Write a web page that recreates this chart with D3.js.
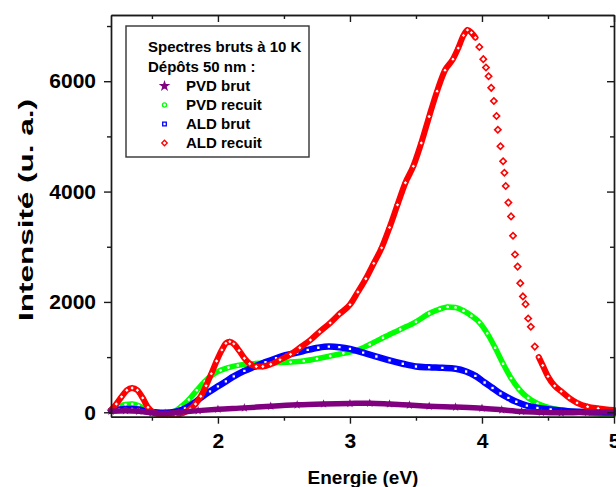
<!DOCTYPE html>
<html>
<head>
<meta charset="utf-8">
<script src="https://cdn.jsdelivr.net/npm/d3@7"></script>
<style>
  html, body { margin: 0; padding: 0; background: #fff; }
  svg { display: block; font-family: "Liberation Sans", Arial, Helvetica, sans-serif; }
</style>
</head>
<body>
<svg id="chart" width="616" height="487"></svg>
<script>
// ---- Data ----
const seriesNames = ["PVD brut", "PVD recuit", "ALD brut", "ALD recuit"];
const legendTitle = ["Spectres bruts à 10 K", "Dépôts 50 nm :"];
const xTicks = [2, 3, 4, 5];
const xMinorTicks = [1.5, 2.5, 3.5, 4.5];
const yTicks = [0, 2000, 4000, 6000];
const yMinorTicks = [1000, 3000, 5000, 7000];

// [energy (eV), intensity (u. a.)]
const pvdBrut = [
  [1.19, 20], [1.30, 30], [1.40, 20], [1.50, -10], [1.60, -20], [1.70, 0], [1.85, 30],
  [2.0, 55], [2.2, 80], [2.4, 110], [2.6, 135], [2.8, 150], [3.0, 160], [3.15, 165],
  [3.3, 150], [3.45, 130], [3.6, 110], [3.8, 95], [4.0, 75], [4.15, 45], [4.3, 15],
  [4.45, 0], [4.6, -10], [4.8, 0], [5.0, 10]
];
const pvdRecuit = [
  [1.19, 40], [1.25, 100], [1.30, 140], [1.35, 150], [1.40, 120], [1.45, 50], [1.50, 10],
  [1.58, -10], [1.66, 10], [1.72, 100], [1.78, 230], [1.84, 400], [1.90, 560], [1.96, 680],
  [2.02, 760], [2.08, 810], [2.15, 850], [2.25, 880], [2.35, 890], [2.45, 900], [2.55, 910],
  [2.65, 930], [2.75, 970], [2.85, 1020], [2.95, 1070], [3.05, 1120], [3.15, 1230],
  [3.25, 1350], [3.38, 1500], [3.50, 1640], [3.60, 1790], [3.68, 1870], [3.74, 1910],
  [3.80, 1900], [3.86, 1840], [3.92, 1750], [3.98, 1630], [4.04, 1430], [4.10, 1170],
  [4.16, 880], [4.22, 620], [4.28, 420], [4.35, 260], [4.42, 160], [4.50, 90], [4.60, 40],
  [4.75, 0], [4.90, -30], [5.0, -30]
];
const aldBrut = [
  [1.19, 30], [1.25, 50], [1.30, 60], [1.35, 60], [1.40, 50], [1.45, 20], [1.52, 0],
  [1.60, -10], [1.68, 10], [1.75, 70], [1.82, 170], [1.88, 280], [1.94, 380], [2.0, 470],
  [2.06, 560], [2.12, 650], [2.20, 750], [2.28, 830], [2.36, 910], [2.44, 980], [2.52, 1040],
  [2.60, 1080], [2.68, 1130], [2.76, 1170], [2.84, 1190], [2.92, 1180], [3.00, 1150],
  [3.10, 1080], [3.20, 1010], [3.30, 940], [3.40, 880], [3.50, 830], [3.60, 815], [3.70, 805],
  [3.80, 790], [3.88, 740], [3.95, 660], [4.02, 540], [4.08, 440], [4.14, 340], [4.20, 260],
  [4.26, 190], [4.34, 120], [4.42, 80], [4.52, 50], [4.65, 20], [4.80, 5], [5.0, -5]
];
const aldRecuit = [
  [1.19, 40], [1.23, 150], [1.27, 280], [1.31, 400], [1.35, 440], [1.39, 400], [1.43, 260],
  [1.47, 90], [1.51, 0], [1.56, -40], [1.62, -50], [1.68, -45], [1.74, -10], [1.79, 60],
  [1.83, 150], [1.87, 290], [1.91, 480], [1.95, 700], [1.99, 930], [2.03, 1130], [2.06, 1250],
  [2.09, 1280], [2.12, 1240], [2.16, 1120], [2.20, 980], [2.24, 880], [2.29, 830], [2.34, 830],
  [2.40, 870], [2.47, 950], [2.55, 1050], [2.62, 1170], [2.70, 1310], [2.77, 1460],
  [2.85, 1620], [2.92, 1780], [3.0, 1950], [3.06, 2180], [3.12, 2420], [3.18, 2700],
  [3.24, 2980], [3.30, 3350], [3.36, 3760], [3.42, 4160], [3.48, 4460], [3.54, 4880],
  [3.60, 5360], [3.66, 5820], [3.72, 6200], [3.78, 6400], [3.82, 6600], [3.86, 6830],
  [3.89, 6930], [3.92, 6880], [3.95, 6790], [3.98, 6620], [4.01, 6400], [4.03, 6250],
  [4.05, 6090], [4.07, 5880], [4.09, 5640], [4.11, 5370], [4.12, 5120], [4.14, 4820],
  [4.16, 4550], [4.17, 4340], [4.18, 4100], [4.20, 3800], [4.22, 3550], [4.235, 3200],
  [4.25, 2860], [4.27, 2640], [4.29, 2340], [4.31, 2100], [4.33, 1960], [4.35, 1700],
  [4.37, 1550], [4.40, 1190], [4.43, 1000], [4.46, 850], [4.50, 650], [4.55, 480],
  [4.60, 380], [4.66, 260], [4.72, 170], [4.80, 100], [4.88, 70], [5.0, 40]
];

// ---- Layout ----
const svg = d3.select("#chart");
const plotLeft = 111, plotRight = 614, plotTop = 15, plotBottom = 416.7;
const x = d3.scaleLinear().domain([1.19, 5.0]).range([plotLeft, plotRight]);
const y = d3.scaleLinear().domain([-80, 7200]).range([plotBottom, plotTop]);

const axisColor = "#1a1a1a";
const fontTick = 21;

// Series definitions (drawing order bottom -> top).
// "sparse": energy range where the reference shows separate markers only (no continuous band)
const series = [
  { name: seriesNames[1], data: pvdRecuit, color: "#00ff00", symbol: d3.symbolCircle, rot: 0, size: 12, lw: 5.5, mk: 13 },
  { name: seriesNames[2], data: aldBrut,   color: "#0000ff", symbol: d3.symbolSquare, rot: 0, size: 12, lw: 6.5, mk: 13 },
  { name: seriesNames[3], data: aldRecuit, color: "#ff0000", symbol: d3.symbolSquare, rot: 45, size: 12, lw: 6, mk: 15,
    sparse: [3.97, 4.42], sparseSize: 20 },
  { name: seriesNames[0], data: pvdBrut,   color: "#800080", symbol: d3.symbolStar, rot: 0, size: 10, lw: 5.5, mk: 18 }
];

const plot = svg.append("g");
const line = d3.line().x(d => x(d[0])).y(d => y(d[1])).curve(d3.curveMonotoneX);

series.forEach(s => {
  const inSparse = d => s.sparse && d[0] > s.sparse[0] && d[0] < s.sparse[1];
  const segments = s.sparse
    ? [s.data.filter(d => d[0] <= s.sparse[0]), s.data.filter(d => d[0] >= s.sparse[1])]
    : [s.data];
  segments.forEach(seg => {
    plot.append("path")
      .attr("d", line(seg))
      .attr("fill", "none")
      .attr("stroke", s.color)
      .attr("stroke-width", s.lw)
      .attr("stroke-linejoin", "round")
      .attr("stroke-linecap", "round");
  });
  plot.selectAll(null).data(s.data).enter().append("path")
    .attr("transform", d => `translate(${x(d[0])},${y(d[1])}) rotate(${s.rot})`)
    .attr("d", d => d3.symbol().type(s.symbol).size(inSparse(d) ? s.sparseSize : s.size)())
    .attr("fill", s.symbol === d3.symbolStar ? s.color : "#fff")
    .attr("stroke", s.color)
    .attr("stroke-width", d => inSparse(d) ? 1.6 : 1.1);
});

// ---- Axes ----
function styleAxis(g) {
  g.selectAll(".domain").attr("stroke", axisColor).attr("stroke-width", 1.4);
  g.selectAll(".tick line").attr("stroke", axisColor).attr("stroke-width", 1.4);
  g.selectAll(".tick text").attr("fill", "#000").attr("font-weight", "bold")
    .attr("font-size", fontTick).attr("font-family", "Liberation Sans, Arial, sans-serif");
}

// bottom
svg.append("g").attr("transform", `translate(0,${plotBottom})`)
  .call(d3.axisBottom(x).tickValues(xTicks).tickFormat(d3.format("d")).tickSize(7).tickPadding(9).tickSizeOuter(0))
  .call(styleAxis);
svg.append("g").attr("transform", `translate(0,${plotBottom})`)
  .call(d3.axisBottom(x).tickValues(xMinorTicks).tickFormat("").tickSize(4).tickSizeOuter(0))
  .call(styleAxis);

// top (inward ticks)
svg.append("g").attr("transform", `translate(0,${plotTop})`)
  .call(d3.axisBottom(x).tickValues(xTicks).tickFormat("").tickSize(7).tickSizeOuter(0))
  .call(styleAxis);
svg.append("g").attr("transform", `translate(0,${plotTop})`)
  .call(d3.axisBottom(x).tickValues(xMinorTicks).tickFormat("").tickSize(4).tickSizeOuter(0))
  .call(styleAxis);

// left
svg.append("g").attr("transform", `translate(${plotLeft},0)`)
  .call(d3.axisLeft(y).tickValues(yTicks).tickFormat(d3.format("d")).tickSize(7).tickPadding(8).tickSizeOuter(0))
  .call(styleAxis);
svg.append("g").attr("transform", `translate(${plotLeft},0)`)
  .call(d3.axisLeft(y).tickValues(yMinorTicks).tickFormat("").tickSize(4).tickSizeOuter(0))
  .call(styleAxis);

// right (inward ticks)
svg.append("g").attr("transform", `translate(${plotRight},0)`)
  .call(d3.axisLeft(y).tickValues(yTicks).tickFormat("").tickSize(7).tickSizeOuter(0))
  .call(styleAxis);
svg.append("g").attr("transform", `translate(${plotRight},0)`)
  .call(d3.axisLeft(y).tickValues(yMinorTicks).tickFormat("").tickSize(4).tickSizeOuter(0))
  .call(styleAxis);

// Axis titles
svg.append("text")
  .attr("x", 363).attr("y", 484)
  .attr("text-anchor", "middle")
  .attr("font-weight", "bold").attr("font-size", 19)
  .text("Energie (eV)");

svg.append("text")
  .attr("transform", "translate(33,210) rotate(-90)")
  .attr("text-anchor", "middle")
  .attr("font-weight", "bold").attr("font-size", 21)
  .attr("textLength", 222).attr("lengthAdjust", "spacingAndGlyphs")
  .text("Intensité (u. a.)");

// ---- Legend ----
const lg = svg.append("g");
lg.append("rect")
  .attr("x", 126).attr("y", 26).attr("width", 183).attr("height", 131)
  .attr("fill", "#fff").attr("stroke", "#333").attr("stroke-width", 1.4);
lg.append("text").attr("x", 148).attr("y", 52)
  .attr("font-weight", "bold").attr("font-size", 15).text(legendTitle[0]);
lg.append("text").attr("x", 148).attr("y", 71.5)
  .attr("font-weight", "bold").attr("font-size", 15).text(legendTitle[1]);

const legendOrder = [series[3], series[0], series[1], series[2]];
legendOrder.forEach((s, i) => {
  const yy = 91 + i * 19;
  lg.append("path")
    .attr("transform", `translate(164.5,${yy - 5}) rotate(${s.rot})`)
    .attr("d", d3.symbol().type(s.symbol).size(s.mk))
    .attr("fill", s.symbol === d3.symbolStar ? s.color : "#fff")
    .attr("stroke", s.color).attr("stroke-width", 1.3);
  lg.append("text").attr("x", 186).attr("y", yy)
    .attr("font-weight", "bold").attr("font-size", 15).text(s.name);
});
</script>
</body>
</html>
